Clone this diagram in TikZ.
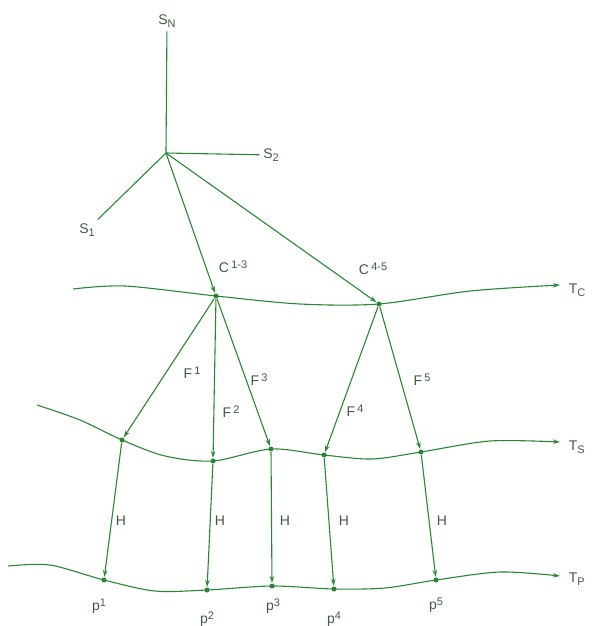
\documentclass[tikz,border=0pt]{standalone}
\usepackage{fontspec}
\setmainfont{Liberation Sans}
\usetikzlibrary{arrows.meta}
\definecolor{linegreen}{RGB}{40,135,50}
\definecolor{textgray}{RGB}{65,90,70}
\newcommand\up[1]{\raisebox{0.55ex}{\fontsize{11}{12}\selectfont #1}}
\newcommand\dn[1]{\raisebox{-0.45ex}{\fontsize{11}{12}\selectfont #1}}
\tikzset{
  dot/.style={circle, fill=linegreen, inner sep=0pt, minimum size=5pt},
  lbl/.style={text=textgray, font=\fontsize{14}{16}\selectfont}
}
\begin{document}
\begin{tikzpicture}[x=1pt, y=-1pt, >={Stealth[length=7pt,width=4.5pt]}, line width=1.1pt, every node/.style={lbl}]
				\useasboundingbox (0,0) rectangle (598,626);
				
				% 源 S
				\coordinate (hub) at (166,153);
				\node (sn) at (167,21) {S\dn{N}};
				\node (s2) at (271,155) {S\dn{2}};
				\node (s1) at (87,230) {S\dn{1}};
				\draw[linegreen] (hub) -- (sn);
				\draw[linegreen] (hub) -- (s2);
				\draw[linegreen] (hub) -- (s1);
				
				% 结点
				\node[dot] (c13) at (216,296) {};
				\node[dot] (c45) at (379,304) {};
				\node[dot] (s1p) at (122,440) {};
				\node[dot] (s2p) at (213,461) {};
				\node[dot] (s3p) at (271,449) {};
				\node[dot] (s4p) at (324,455) {};
				\node[dot] (s5p) at (421,452) {};
				\node[dot] (p1) at (104,580) {};
				\node[dot] (p2) at (207,590) {};
				\node[dot] (p3) at (272,586) {};
				\node[dot] (p4) at (334,589) {};
				\node[dot] (p5) at (436,580) {};
				
				% 三条曲线 T_C, T_S, T_P
				\coordinate (tc0) at (73,289);  \coordinate (tc1) at (560,285);
				\coordinate (ts0) at (37,405);  \coordinate (ts1) at (560,442);
				\coordinate (tp0) at (8,566);   \coordinate (tp1) at (560,576);
				\draw[linegreen, ->] plot[smooth] coordinates {(tc0) (125,286) (c13) (300,304) (c45) (470,291) (tc1)};
				\draw[linegreen, ->] plot[smooth] coordinates {(ts0) (80,420) (s1p) (165,456) (s2p) (s3p) (s4p) (372,459) (s5p) (490,441) (ts1)};
				\draw[linegreen, ->] plot[smooth] coordinates {(tp0) (50,565) (p1) (155,591) (p2) (p3) (p4) (385,588) (p5) (500,572) (tp1)};
				\node[anchor=west] (tc) at (565,290) {T\dn{C}};
				\node[anchor=west] (ts) at (565,447) {T\dn{S}};
				\node[anchor=west] (tp) at (565,579) {T\dn{P}};
				
				% C 与 F
				\draw[linegreen, ->] (hub) -- (c13);
				\draw[linegreen, ->] (hub) -- (c45);
				\node at (233,267) {C\,\up{1-3}};
				\node at (373,269) {C\,\up{4-5}};
				\draw[linegreen, ->] (c13) -- (s1p);
				\draw[linegreen, ->] (c13) -- (s2p);
				\draw[linegreen, ->] (c13) -- (s3p);
				\draw[linegreen, ->] (c45) -- (s4p);
				\draw[linegreen, ->] (c45) -- (s5p);
				\node at (192,373) {F\,\up{1}};
				\node at (231,412) {F\,\up{2}};
				\node at (259,380) {F\,\up{3}};
				\node at (355,411) {F\,\up{4}};
				\node at (422,380) {F\,\up{5}};
				
				% H
				\foreach \i in {1,...,5}
					\draw[linegreen, ->] (s\i p) -- (p\i);
				\node at (121,521) {H};
				\node at (220,521) {H};
				\node at (285,521) {H};
				\node at (344,521) {H};
				\node at (442,521) {H};
				
				% p 标签
				\node at (99,606) {p\up{1}};
				\node at (207,619) {p\up{2}};
				\node at (273,606) {p\up{3}};
				\node at (334,619) {p\up{4}};
				\node at (436,605) {p\up{5}};
\end{tikzpicture}
\end{document}
